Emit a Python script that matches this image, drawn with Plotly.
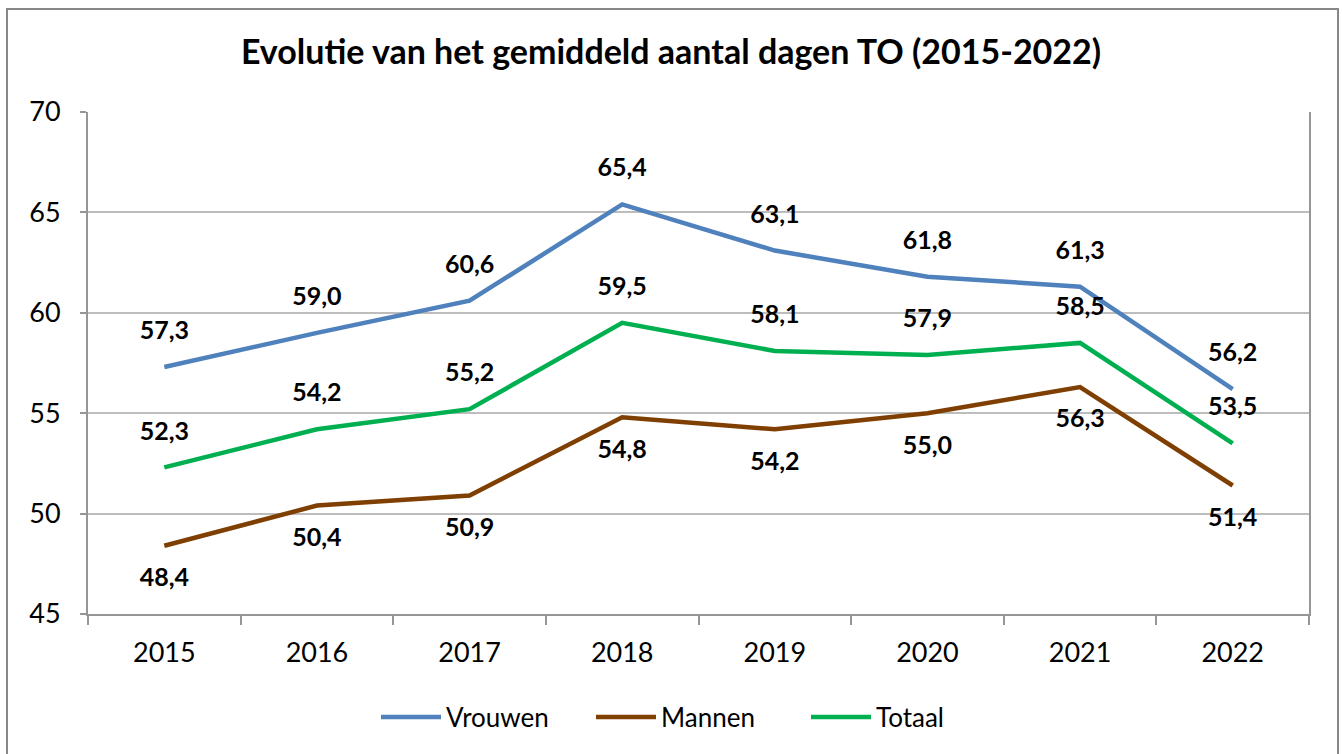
import plotly.graph_objects as go

years = ["2015", "2016", "2017", "2018", "2019", "2020", "2021", "2022"]
vrouwen = [57.3, 59.0, 60.6, 65.4, 63.1, 61.8, 61.3, 56.2]
mannen = [48.4, 50.4, 50.9, 54.8, 54.2, 55.0, 56.3, 51.4]
totaal = [52.3, 54.2, 55.2, 59.5, 58.1, 57.9, 58.5, 53.5]

series = [
    ("Vrouwen", vrouwen, "#4F81BD", "top center"),
    ("Mannen", mannen, "#7F3F00", "bottom center"),
    ("Totaal", totaal, "#00B050", "top center"),
]

FONT = "Lato"

fig = go.Figure()
for name, vals, color, pos in series:
    fig.add_trace(go.Scatter(
        x=years, y=vals, name=name, mode="lines",
        line=dict(color=color, width=4.5),
    ))
for name, vals, color, pos in series:
    fig.add_trace(go.Scatter(
        x=years, y=vals, mode="markers+text", showlegend=False,
        text=[f"{v:.1f}".replace(".", ",") for v in vals],
        textposition=pos,
        marker=dict(size=33, color="rgba(0,0,0,0)"),
        textfont=dict(family=FONT, size=25, color="#000000", weight="bold"),
        hoverinfo="skip",
    ))

L, R, T, B = 88, 33, 112, 140
W, H = 1342, 754
pw, ph = W - L - R, H - T - B

fig.update_layout(
    width=W, height=H,
    margin=dict(l=L, r=R, t=T, b=B),
    paper_bgcolor="white", plot_bgcolor="white",
    font=dict(family=FONT, size=27, color="#000000"),
    title=dict(
        text="<b>Evolutie van het gemiddeld aantal dagen TO (2015-2022)</b>",
        x=0.5, xanchor="center", y=1 - 52 / H, yanchor="middle",
        font=dict(family=FONT, size=34, color="#000000"),
    ),
    showlegend=True,
    legend=dict(
        orientation="h", x=0.5, xanchor="center",
        y=(T + ph - 717) / ph, yanchor="middle",
        font=dict(family=FONT, size=26), itemwidth=60,
        entrywidth=140, entrywidthmode="pixels",
    ),
    shapes=[dict(
        type="rect", xref="paper", yref="paper",
        x0=(7 - L) / pw, x1=(1338 - L) / pw,
        y0=(T + ph - 770) / ph, y1=(T + ph - 9) / ph,
        line=dict(color="#878787", width=2), fillcolor="rgba(0,0,0,0)",
        layer="below",
    )],
)

fig.update_xaxes(
    type="category", range=[-0.5, 7.5],
    showline=True, linecolor="#969696", linewidth=2, mirror=False,
    ticks="outside", tickson="boundaries", ticklen=9, tickcolor="#969696", tickwidth=2,
    showgrid=False, tickfont=dict(size=27), ticklabelstandoff=14,
)
fig.update_yaxes(
    range=[45, 70], dtick=5,
    showline=True, linecolor="#969696", linewidth=2, mirror=True,
    ticks="outside", ticklen=6, tickcolor="#969696", tickwidth=2,
    showgrid=True, gridcolor="#BDBDBD", gridwidth=1.5,
    tickfont=dict(size=27), zeroline=False, ticklabelstandoff=14,
)

fig.write_html("out.html", config={"displayModeBar": False},
               post_script="document.body.style.margin='0';")
